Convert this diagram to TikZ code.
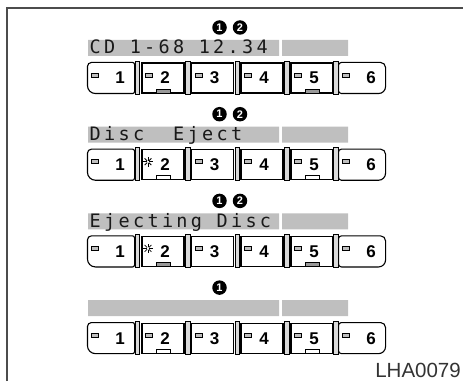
\documentclass[tikz,border=0pt]{standalone}
\usepackage{fontspec}
\newfontfamily\lcdfont[LetterSpace=18]{DejaVu Sans Mono}
\newfontfamily\keyfont{Liberation Sans}
\usetikzlibrary{positioning,calc}
\tikzset{lcdband/.style={fill=black!25}}
\tikzset{lcdtext/.style={font=\lcdfont\fontsize{18.5}{18.5}\selectfont,text=black!90,inner sep=0pt,anchor=base west}}
\tikzset{marknum/.style={circle,fill=black,text=white,font=\keyfont\bfseries\fontsize{11}{11}\selectfont,minimum size=14.5pt,inner sep=0pt}}
\tikzset{keybox/.style={draw,line width=1.1pt,minimum height=30pt,inner sep=0pt}}
\tikzset{keyline/.style={line width=1.1pt}}
\tikzset{keynum/.style={font=\keyfont\bfseries\fontsize{17}{17}\selectfont,inner sep=0pt,anchor=base}}
\tikzset{keydash/.style={draw,line width=0.9pt,fill=black!25,minimum width=7pt,minimum height=4pt,inner sep=0pt}}
\tikzset{keysep/.style={draw,line width=0.7pt,fill=black!15,minimum width=4.5pt,minimum height=33pt,inner sep=0pt}}
\tikzset{keylamp/.style={draw,line width=0.8pt,minimum width=14pt,minimum height=4pt,inner sep=0pt}}

\begin{document}
\begin{tikzpicture}[x=1pt,y=1pt]
        \useasboundingbox (0,0) rectangle (463,381);
        \draw[line width=1.5pt,black!70] (7,0) -- (7,373) -- (463,373);
        % one display state per row, \yk = top of the keys
        \foreach \r/\yk/\msg/\marks/\star/\lamp in {1/318/{CD 1-68 12.34}/2/0/black!40,
                2/231.3/{Disc\ \ Eject}/2/1/white, 3/144.6/{Ejecting Disc}/2/1/black!40, 4/57.9/{}/1/0/white}{
            \fill[lcdband] (88,\yk+7) rectangle (279,\yk+23) (282,\yk+7) rectangle (348,\yk+23);
            \node[lcdtext] (msg\r) at (89.5,\yk+9) {\msg};
            \node[marknum] (mark\r-1) at (219.5,\yk+35.5) {1};
            \ifnum\marks>1 \node[marknum] (mark\r-2) at (240,\yk+35.5) {2}; \fi
            \node[keybox,draw=none,minimum width=46pt] (key\r-1) at (111,\yk-15) {};
            \node[keybox,draw=none,minimum width=46pt] (key\r-6) at (362,\yk-15) {};
            \foreach \k/\x in {2/163,3/212.5,4/262,5/312}
                \node[keybox,minimum width=42pt] (key\r-\k) at (\x,\yk-15) {};
            \draw[keyline] ([xshift=-2pt]key\r-1.north east) -- ([xshift=4pt]key\r-1.north west)
                arc[start angle=90,end angle=180,radius=4pt] -- ([yshift=8pt]key\r-1.south west)
                arc[start angle=180,end angle=270,radius=8pt] -- ([xshift=-2pt]key\r-1.south east)
                arc[start angle=270,end angle=360,radius=2pt] -- ([yshift=-2pt]key\r-1.north east)
                arc[start angle=0,end angle=90,radius=2pt] -- cycle;
            \draw[keyline] ([xshift=3pt]key\r-6.north west) -- ([xshift=-5pt]key\r-6.north east)
                arc[start angle=90,end angle=0,radius=5pt] -- ([yshift=7pt]key\r-6.south east)
                arc[start angle=0,end angle=-90,radius=7pt] -- ([xshift=3pt]key\r-6.south west)
                arc[start angle=270,end angle=180,radius=3pt] -- ([yshift=-3pt]key\r-6.north west)
                arc[start angle=180,end angle=90,radius=3pt] -- cycle;
            \foreach \x [count=\i] in {137.5,187.7,237.3,287,336}
                \node[keysep] (sep\r-\i) at (\x,\yk-14.5) {};
            \foreach \k/\x/\w/\dx in {1/111/46/9,2/163/42/2,3/212.5/42/2,4/262/42/2,5/312/42/2,6/362/46/9}{
                \node[keynum] (num\r-\k) at (\x+\dx,\yk-21) {\k};
                \ifnum\k\star=21
                    \coordinate (star\r) at (\x-\w/2+6,\yk-12);
                    \foreach \a in {0,45,...,315}
                        \draw[line width=0.8pt] ($(star\r)+(\a:1.2pt)$) -- ($(star\r)+(\a:4.8pt)$);
                \else
                    \node[keydash] (dash\r-\k) at (\x-\w/2+7,\yk-12) {};
                \fi
            }
            \foreach \k/\x in {2/163,5/312}
                \node[keylamp,fill=\lamp] (lamp\r-\k) at (\x,\yk-28) {};
        }
        \node[anchor=base east,font=\keyfont\fontsize{20.5}{20.5}\selectfont,text=black!80,inner sep=0pt] (code) at (461,3.5) {LHA0079};
    \end{tikzpicture}
\end{document}
